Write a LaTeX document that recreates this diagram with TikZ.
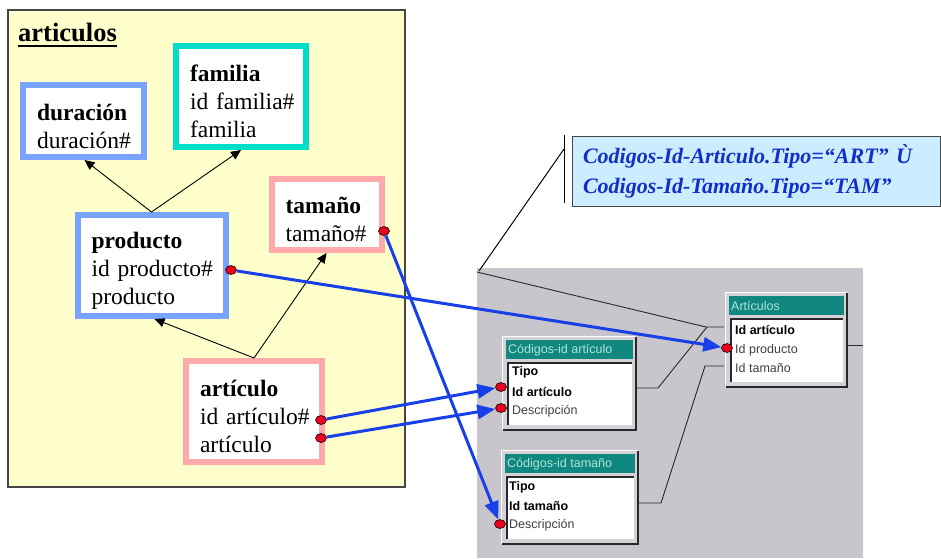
\documentclass[tikz,border=0pt]{standalone}
\usepackage{fontspec}
\setmainfont{Liberation Serif}
\setsansfont{Liberation Sans}
\usetikzlibrary{arrows.meta,shapes.geometric,calc}

\definecolor{paper}{RGB}{255,255,204}
\definecolor{erblue}{RGB}{122,162,255}
\definecolor{erteal}{RGB}{0,222,200}
\definecolor{erpink}{RGB}{255,170,170}
\definecolor{linkblue}{RGB}{24,64,232}
\definecolor{dotred}{RGB}{235,0,30}
\definecolor{scrgray}{RGB}{200,198,204}
\definecolor{tblface}{RGB}{212,210,214}
\definecolor{tbldark}{RGB}{40,40,40}
\definecolor{tblteal}{RGB}{16,136,128}
\definecolor{tbltitle}{RGB}{175,228,218}
\definecolor{notefill}{RGB}{204,236,255}
\definecolor{notetext}{RGB}{16,48,200}
\definecolor{framegray}{RGB}{70,70,70}

\newcommand{\erfont}{\fontsize{23.5}{28}\selectfont}
% first line of an entity, with a little extra room above it
\newcommand{\enthead}[1]{\mbox{\rule{0pt}{27pt}\textbf{#1}}}

% one table of the relationship window: x, y, width, height, title
\newcommand{\acctable}[5]{%
  \fill[tblface] (#1,#2) rectangle (#1+#3,#2+#4);
  \draw[white,line width=1.2] (#1+0.6,#2+#4-1) -- (#1+0.6,#2+0.6) -- (#1+#3-1,#2+0.6);
  \draw[tbldark,line width=2] (#1+1,#2+#4-1) -- (#1+#3-1,#2+#4-1) -- (#1+#3-1,#2+1);
  \fill[tblteal] (#1+4,#2+4) rectangle (#1+#3-4,#2+23);
  \node[tbltitlestyle,anchor=west] at (#1+6,#2+14) {#5};
  \fill[white] (#1+5,#2+26) rectangle (#1+#3-5,#2+#4-6);
  \draw[tbldark,line width=1.6] (#1+6,#2+#4-6) -- (#1+6,#2+26.8) -- (#1+#3-5,#2+26.8);
}

\tikzset{
  erbox/.style={rectangle, fill=white, line width=6, inner xsep=14, inner ysep=0,
    align=left, font=\erfont},
  reddot/.style={ellipse, minimum width=11, minimum height=9, inner sep=0,
    fill=dotred, draw=black, line width=0.6},
  isa/.style={draw=black, line width=0.9, -{Triangle[length=10pt,width=9pt]}},
  link/.style={draw=linkblue, line width=3, -{Triangle[length=18pt,width=14pt]}},
  joinline/.style={draw=tbldark, line width=0.9},
  tbltitlestyle/.style={inner sep=0, text=tbltitle, font=\sffamily\fontsize{12.5}{14}\selectfont},
  fieldb/.style={inner sep=0, anchor=west, text=black, font=\sffamily\bfseries\fontsize{12.5}{14}\selectfont},
  fieldn/.style={inner sep=0, anchor=west, text=black!75, font=\sffamily\fontsize{12.5}{14}\selectfont},
}

\begin{document}
\begin{tikzpicture}[x=1pt,y=-1pt]
\useasboundingbox (0,0) rectangle (941,558);

% entity package
\draw[framegray, line width=1.4, fill=paper] (8,10) rectangle (405,487);
\node[anchor=base west, inner sep=0, font=\fontsize{26.5}{30}\selectfont\bfseries] (title) at (18,41) {articulos};
\draw[line width=2.6] ($(title.base west)+(0,5)$) -- ($(title.base east)+(0,5)$);

% entities
\node[erbox, draw=erblue, minimum width=121, minimum height=72, text width=93] (duracion) at (83.5,121)
  {\enthead{duración}\\\mbox{duración\#}};
\node[erbox, draw=erteal, minimum width=130, minimum height=101, text width=102] (familia) at (241,96.5)
  {\enthead{familia}\\\mbox{id familia\#}\\\mbox{familia}};
\node[erbox, draw=erpink, minimum width=109, minimum height=71, text width=82] (tamano) at (326.5,214.5)
  {\enthead{tamaño}\\\mbox{tamaño\#}};
\node[erbox, draw=erblue, minimum width=147, minimum height=101, text width=120] (producto) at (151.5,265.5)
  {\enthead{producto}\\\mbox{id producto\#}\\\mbox{producto}};
\node[erbox, draw=erpink, minimum width=136, minimum height=101, text width=108] (articulo) at (254,411.5)
  {\enthead{artículo}\\\mbox{id artículo\#}\\\mbox{artículo}};

% generalisation arrows
\draw[isa] (producto.north) -- ([xshift=1pt]duracion.south);
\draw[isa] (producto.north) -- (familia.south);
\draw[isa] (articulo.north) -- ([xshift=3pt]producto.south);
\draw[isa] (articulo.north) -- (tamano.south);

% relationship window
\fill[scrgray] (477,268) rectangle (863,558);
\acctable{725}{292}{123}{96}{Artículos}
\acctable{502}{336}{135}{95}{Códigos-id artículo}
\acctable{501}{450}{138}{95}{Códigos-id tamaño}

\node[fieldb] (fArtId) at (735,330) {Id artículo};
\node[fieldn] (fArtProd) at (735,350) {Id producto};
\node[fieldn] (fArtTam) at (735,368) {Id tamaño};

\node[fieldb] (fCaTipo) at (512,372) {Tipo};
\node[fieldb] (fCaId) at (512,392) {Id artículo};
\node[fieldn] (fCaDesc) at (512,411) {Descripción};

\node[fieldb] (fCtTipo) at (509,487) {Tipo};
\node[fieldb] (fCtId) at (509,506) {Id tamaño};
\node[fieldn] (fCtDesc) at (509,525) {Descripción};

% joins between tables
\coordinate (jOff) at (477,272);
\coordinate (jArtId) at (724,327);
\coordinate (jArtTam) at (724,366);
\coordinate (jCa) at (637,388);
\coordinate (jCt) at (639,503);
\coordinate (jArtR) at (848,345);
\coordinate (jEdge) at (863,345);
\draw[joinline] (jOff) -- (706,327) -- (jArtId);
\draw[joinline] (jCa) -- (658,388) -- (707,327);
\draw[joinline] (jCt) -- (661,503) -- (705,366) -- (jArtTam);
\draw[joinline] (jArtR) -- (jEdge);

% condition note
\node[draw=framegray, line width=1, fill=notefill, minimum width=368, minimum height=70,
  text width=346, inner xsep=11, align=left, text=notetext,
  font=\fontsize{22}{30}\selectfont\bfseries\itshape] (note) at (756,171)
  {Codigos-Id-Articulo.Tipo=“ART” Ù\\Codigos-Id-Tamaño.Tipo=“TAM”};
\coordinate (brTop) at (564,135);
\coordinate (brBot) at (564,203);
\coordinate (brMid) at (564,149);
\coordinate (brEnd) at (479,271);
\draw[black, line width=1] (brTop) -- (brBot);
\draw[black, line width=1] (brMid) -- (brEnd);

% attribute markers
\node[reddot] (dTam) at (384,231) {};
\node[reddot] (dProd) at (231,270) {};
\node[reddot] (dArtId) at (321,420) {};
\node[reddot] (dArtName) at (321,438) {};
\node[reddot] (tProd) at (727,348) {};
\node[reddot] (tCaId) at (501,387) {};
\node[reddot] (tCaDesc) at (501,408) {};
\node[reddot] (tCtDesc) at (500,524) {};

% attribute mappings
\draw[link] (dTam) -- (tCtDesc);
\draw[link] (dProd) -- (tProd);
\draw[link] (dArtId) -- (tCaId);
\draw[link] (dArtName) -- (tCaDesc);
\end{tikzpicture}
\end{document}
